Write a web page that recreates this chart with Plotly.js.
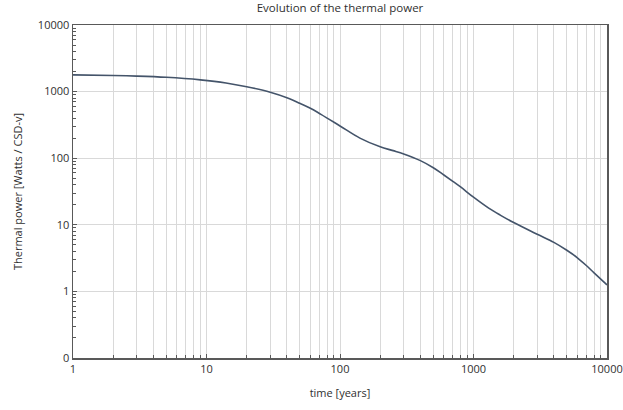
<!DOCTYPE html>
<html>
<head>
<meta charset="utf-8">
<script src="https://cdn.plot.ly/plotly-3.0.1.min.js"></script>
<style>html,body{margin:0;padding:0;background:#fff;}#chart{width:623px;height:410px;}</style>
</head>
<body>
<div id="chart"></div>
<script>
// time [years]
var timeYears = [1, 2, 3, 5, 9, 14, 20, 30, 40, 50, 60, 72, 100, 141, 200, 250, 300, 400, 500, 600, 700, 800, 1000, 1300, 1585, 2000, 3000, 4000, 5000, 6000, 7000, 8000, 10000];
// thermal power [W / CSD-v]
var thermalPower = [1780, 1745, 1710, 1640, 1500, 1350, 1185, 980, 810, 667, 562, 455, 305, 200, 148, 130, 116, 92, 72, 56, 45, 37, 26, 17.8, 14.0, 10.8, 7.2, 5.45, 4.15, 3.2, 2.45, 1.9, 1.25];
var yTickVals = [0.1, 1, 10, 100, 1000, 10000];
var yTickText = ["0", "1", "10", "100", "1000", "10000"];
var xTickVals = [1, 10, 100, 1000, 10000];
var xTickText = ["1", "10", "100", "1000", "10000"];

var font = "'Open Sans', 'Liberation Sans', sans-serif";
var trace = {
  x: timeYears, y: thermalPower, type: 'scatter', mode: 'lines',
  line: {color: '#44546A', width: 1.6, shape: 'spline', smoothing: 1.0},
  hoverinfo: 'skip'
};
var layout = {
  width: 623, height: 410,
  margin: {l: 73, r: 16, t: 25, b: 52},
  paper_bgcolor: '#fff', plot_bgcolor: '#fff',
  showlegend: false,
  font: {family: font, size: 11, color: '#404040'},
  title: {text: 'Evolution of the thermal power', x: 0.5, xref: 'paper', y: 0.99, yanchor: 'top', font: {family: font, size: 11.5, color: '#303030'}},
  xaxis: {
    type: 'log', range: [0, 4],
    tickvals: xTickVals, ticktext: xTickText,
    showgrid: true, gridcolor: '#d9d9d9', gridwidth: 1,
    showline: true, linecolor: '#595959', linewidth: 1.5, mirror: true,
    ticks: 'inside', ticklen: 4, tickcolor: '#595959',
    minor: {dtick: 'D1', showgrid: true, gridcolor: '#d9d9d9', gridwidth: 1, ticks: 'inside', ticklen: 3, tickcolor: '#595959'},
    tickfont: {family: font, size: 11, color: '#303030'},
    title: {text: 'time [years]', font: {family: font, size: 11, color: '#303030'}, standoff: 14},
    zeroline: false
  },
  yaxis: {
    type: 'log', range: [-1, 4],
    tickvals: yTickVals, ticktext: yTickText,
    showgrid: true, gridcolor: '#d9d9d9', gridwidth: 1,
    showline: true, linecolor: '#595959', linewidth: 1.5, mirror: true,
    ticks: 'inside', ticklen: 4, tickcolor: '#595959',
    minor: {dtick: 'D1', showgrid: false, ticks: 'inside', ticklen: 3, tickcolor: '#595959'},
    tickfont: {family: font, size: 11, color: '#303030'},
    title: {text: 'Thermal power [Watts / CSD-v]', font: {family: font, size: 11, color: '#303030'}, standoff: 13},
    zeroline: false
  }
};
Plotly.newPlot('chart', [trace], layout, {displayModeBar: false, staticPlot: true});
</script>
</body>
</html>
